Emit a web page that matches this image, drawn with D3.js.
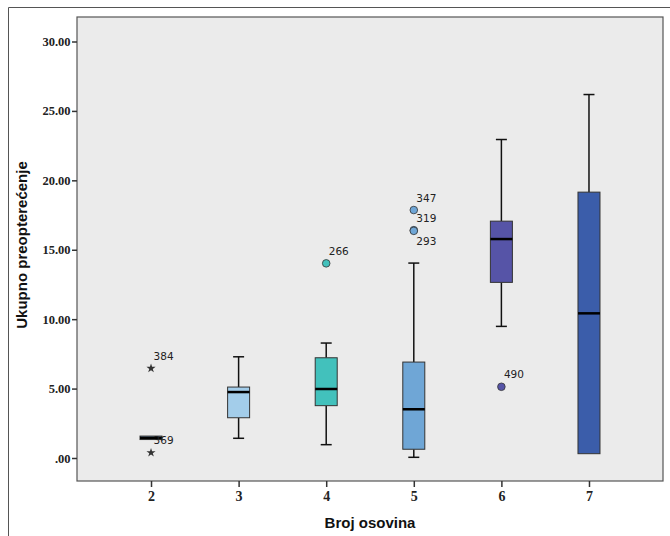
<!DOCTYPE html>
<html>
<head>
<meta charset="utf-8">
<script src="https://cdn.jsdelivr.net/npm/d3@7"></script>
<style>
  body { margin: 0; background: #fff; }
  svg { display: block; }
</style>
</head>
<body>
<svg width="670" height="536"></svg>
<script>
// broj osovina -> ukupno preopterecenje
const categories = ["2", "3", "4", "5", "6", "7"];
const whiskerLow = [1.35, 1.42, 0.96, 0.05, 9.48, 0.31];
const q1 = [1.33, 2.90, 3.77, 0.63, 12.65, 0.31];
const medians = [1.45, 4.75, 4.97, 3.51, 15.77, 10.42];
const q3 = [1.58, 5.11, 7.22, 6.91, 17.06, 19.15];
const whiskerHigh = [1.58, 7.29, 8.28, 14.04, 22.94, 26.18];
const boxColors = ["#8fb8dc", "#a3cdea", "#42c1bc", "#6fa6d6", "#5654a7", "#3b5daa"];

const outlierGroup = ["2", "2", "4", "5", "5", "5", "6"];
const outlierValue = [6.46, 0.38, 14.02, 17.86, 16.41, 16.36, 5.13];
const outlierId = ["384", "369", "266", "347", "319", "293", "490"];
const outlierExtreme = [true, true, false, false, false, false, false];

const yTicks = [0, 5, 10, 15, 20, 25, 30];

var svg = d3.select("svg");

var plot = {left: 77, right: 663, top: 17, bottom: 481};

var x = d3.scalePoint()
    .domain(categories)
    .range([plot.left, plot.right])
    .padding(0.845);

var y = d3.scaleLinear()
    .domain([0, 30])
    .range([458, 41.5]);

// outer frame
svg.append("path")
    .attr("d", "M8.5,536 V7.5 H670")
    .attr("fill", "none")
    .attr("stroke", "#555")
    .attr("stroke-width", 1);

// plot background
svg.append("rect")
    .attr("x", plot.left)
    .attr("y", plot.top)
    .attr("width", plot.right - plot.left)
    .attr("height", plot.bottom - plot.top)
    .attr("fill", "#ebebeb")
    .attr("stroke", "#555")
    .attr("stroke-width", 1.2);

// axes
var yAxis = d3.axisLeft(y)
    .tickValues(yTicks)
    .tickSize(5)
    .tickPadding(1.5)
    .tickFormat(d => d === 0 ? ".00" : d3.format(".2f")(d));

var gy = svg.append("g")
    .attr("transform", "translate(" + plot.left + ",0)")
    .call(yAxis);
gy.select(".domain").remove();
gy.selectAll("line").attr("stroke", "#333").attr("stroke-width", 1.5);
gy.selectAll("text")
    .attr("fill", "#222")
    .style("font-family", "'Liberation Serif', 'DejaVu Serif', serif")
    .style("font-weight", "bold")
    .style("font-size", "12.5px");

var xAxis = d3.axisBottom(x)
    .tickSize(6)
    .tickPadding(4);

var gx = svg.append("g")
    .attr("transform", "translate(0," + plot.bottom + ")")
    .call(xAxis);
gx.select(".domain").remove();
gx.selectAll("line").attr("stroke", "#333").attr("stroke-width", 1.5);
gx.selectAll("text")
    .attr("fill", "#222")
    .style("font-family", "'Liberation Serif', 'DejaVu Serif', serif")
    .style("font-weight", "bold")
    .style("font-size", "14px");

// axis titles
svg.append("text")
    .attr("x", 370)
    .attr("y", 528)
    .attr("text-anchor", "middle")
    .style("font-family", "'Liberation Sans', Arial, sans-serif")
    .style("font-weight", "bold")
    .style("font-size", "15px")
    .attr("fill", "#111")
    .text("Broj osovina");

svg.append("text")
    .attr("transform", "translate(27,245) rotate(-90)")
    .attr("text-anchor", "middle")
    .style("font-family", "'Liberation Sans', Arial, sans-serif")
    .style("font-weight", "bold")
    .style("font-size", "15px")
    .attr("fill", "#111")
    .text("Ukupno preopterećenje");

// boxes
var boxW = 22, capW = 11;
var boxes = categories.map((c, i) => ({
    cat: c, lo: whiskerLow[i], q1: q1[i], med: medians[i], q3: q3[i], hi: whiskerHigh[i], color: boxColors[i]
}));

var node = svg.selectAll(".box")
    .data(boxes)
    .enter().append("g")
    .attr("class", "box")
    .attr("transform", d => "translate(" + x(d.cat) + ",0)");

node.append("line")
    .attr("x1", 0).attr("x2", 0)
    .attr("y1", d => y(d.hi)).attr("y2", d => y(d.q3))
    .attr("stroke", "#111").attr("stroke-width", 1.5);
node.append("line")
    .attr("x1", 0).attr("x2", 0)
    .attr("y1", d => y(d.q1)).attr("y2", d => y(d.lo))
    .attr("stroke", "#111").attr("stroke-width", 1.5);
node.filter(d => d.hi > d.q3).append("line")
    .attr("x1", -capW / 2).attr("x2", capW / 2)
    .attr("y1", d => y(d.hi)).attr("y2", d => y(d.hi))
    .attr("stroke", "#111").attr("stroke-width", 1.5);
node.filter(d => d.lo < d.q1).append("line")
    .attr("x1", -capW / 2).attr("x2", capW / 2)
    .attr("y1", d => y(d.lo)).attr("y2", d => y(d.lo))
    .attr("stroke", "#111").attr("stroke-width", 1.5);

node.append("rect")
    .attr("x", -boxW / 2)
    .attr("width", boxW)
    .attr("y", d => y(d.q3))
    .attr("height", d => Math.max(1, y(d.q1) - y(d.q3)))
    .attr("fill", d => d.color)
    .attr("stroke", "#333")
    .attr("stroke-width", 1);

node.append("line")
    .attr("x1", -boxW / 2).attr("x2", boxW / 2)
    .attr("y1", d => y(d.med)).attr("y2", d => y(d.med))
    .attr("stroke", "#000").attr("stroke-width", 2.5);

// outliers
var outliers = outlierId.map((id, i) => ({
    id, cat: outlierGroup[i], v: outlierValue[i], star: outlierExtreme[i],
    color: boxColors[categories.indexOf(outlierGroup[i])]
}));

// simple label placement: above the point, below if it would hit the previous one
var lastLabel = {};
outliers.forEach(d => {
    var py = y(d.v);
    var ly = py - 12;
    if (lastLabel[d.cat] !== undefined && Math.abs(lastLabel[d.cat] - ly) < 13) ly = py + 10;
    d.ly = ly;
    lastLabel[d.cat] = ly;
});

var star = d3.symbol().type(d3.symbolStar).size(26);

svg.selectAll(".star")
    .data(outliers.filter(d => d.star))
    .enter().append("path")
    .attr("class", "star")
    .attr("d", star)
    .attr("transform", d => "translate(" + x(d.cat) + "," + y(d.v) + ")")
    .attr("fill", "#333");

svg.selectAll(".dot")
    .data(outliers.filter(d => !d.star))
    .enter().append("circle")
    .attr("class", "dot")
    .attr("cx", d => x(d.cat))
    .attr("cy", d => y(d.v))
    .attr("r", 3.8)
    .attr("fill", d => d.color)
    .attr("stroke", "#333")
    .attr("stroke-width", 0.8);

svg.selectAll(".olabel")
    .data(outliers)
    .enter().append("text")
    .attr("class", "olabel")
    .attr("x", d => x(d.cat) + 2.5)
    .attr("y", d => d.ly)
    .attr("dy", "0.35em")
    .style("font-family", "'DejaVu Sans', sans-serif")
    .style("font-size", "10.5px")
    .attr("fill", "#222")
    .text(d => d.id);
</script>
</body>
</html>
